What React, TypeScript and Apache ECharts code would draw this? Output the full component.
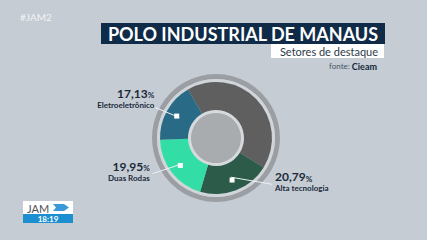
import React, { useEffect, useRef } from "react";
import * as echarts from "echarts";

const categories = ["Outros", "Alta tecnologia", "Duas Rodas", "Eletroeletrônico"];
const values = [42.13, 20.79, 19.95, 17.13];
const sliceColors = ["#5f5f60", "#2c5b49", "#33dea6", "#296b87"];
const showLabel = [false, true, true, true];

// label placement relative to slice centroid (style, not data)
const labelOffsets: Record<number, { lx: number; ly: number; ex: number; ey: number; align: string }> = {
  1: { lx: 44, ly: 5, ex: 41, ey: 7, align: "left" },
  2: { lx: -33, ly: 8, ex: -30, ey: 10, align: "right" },
  3: { lx: -25, ly: -19, ex: -24, ey: -10, align: "right" },
};

const CX = 216;
const CY = 138;
const R0 = 28;
const R1 = 56;

const fmt = (v: number) => v.toFixed(2).replace(".", ",");

export default function App() {
  const ref = useRef<HTMLDivElement>(null);
  useEffect(() => {
    if (!ref.current) return;
    const chart = echarts.init(ref.current, undefined, { renderer: "svg" });
    const font = "Lato, 'Open Sans', sans-serif";
    const slices = categories.map((name, i) => ({
      name,
      value: values[i],
      itemStyle: { color: sliceColors[i] },
    }));
    const labelled = categories.map((name, i) => ({
      name,
      value: values[i],
      label: { show: showLabel[i] },
      labelLine: { show: showLabel[i] },
    }));
    const squares = categories.map((name, i) => ({
      name,
      value: values[i],
      label: { show: showLabel[i] },
    }));
    const deco = (radius: number[], color: string, z: number) => ({
      type: "pie",
      silent: true,
      center: [CX, CY],
      radius,
      label: { show: false },
      labelLine: { show: false },
      itemStyle: { color },
      data: [{ value: 1, name: "deco" }],
      z,
    });
    chart.setOption({
      animation: false,
      backgroundColor: "#c5ccd3",
      series: [
        deco([59, 64], "#9b9fa3", 1),
        deco([55, 59], "#d0d5d9", 1),
        deco([0, 29], "#d6dadd", 1),
        deco([0, 25], "#a9acaf", 2),
        {
          type: "pie",
          silent: true,
          center: [CX, CY],
          radius: [R0, R1],
          startAngle: 120,
          clockwise: true,
          label: { show: false },
          labelLine: { show: false },
          data: slices,
          z: 3,
        },
        {
          type: "pie",
          silent: true,
          center: [CX, CY],
          radius: [R0, R1],
          startAngle: 120,
          clockwise: true,
          itemStyle: { color: "rgba(0,0,0,0)" },
          label: {
            position: "outside",
            formatter: (p: any) => `{v|${fmt(p.value)}}{p|%}\n{n|${p.name}}`,
            rich: {
              v: { fontFamily: font, fontWeight: "bold", fontSize: 12, color: "#1a2a3b", lineHeight: 12 },
              p: { fontFamily: font, fontWeight: "bold", fontSize: 8, color: "#1a2a3b", lineHeight: 12, verticalAlign: "bottom" },
              n: { fontFamily: font, fontWeight: "bold", fontSize: 8, color: "#1a2a3b", lineHeight: 11 },
            },
          },
          labelLine: { show: true, showAbove: true, lineStyle: { color: "#eef2f5", width: 1 }, length: 5, length2: 5 },
          labelLayout: (params: any) => {
            const o = labelOffsets[params.dataIndex];
            const pts = params.labelLinePoints;
            if (!o || !pts) return {};
            const p0 = pts[0];
            const k = (R0 + R1) / 2 / R1;
            const cx = CX + (p0[0] - CX) * k;
            const cy = CY + (p0[1] - CY) * k;
            return {
              x: cx + o.lx,
              y: cy + o.ly,
              align: o.align,
              verticalAlign: "middle",
              labelLinePoints: [
                [cx, cy],
                [cx + o.ex, cy + o.ey],
                [cx + o.ex, cy + o.ey],
              ],
            };
          },
          data: labelled,
          z: 4,
        },
        {
          type: "pie",
          silent: true,
          center: [CX, CY],
          radius: [R0, R1],
          startAngle: 120,
          clockwise: true,
          itemStyle: { color: "rgba(0,0,0,0)" },
          label: {
            position: "inside",
            formatter: "{s|}",
            rich: { s: { width: 5, height: 5, backgroundColor: "#ffffff" } },
          },
          labelLine: { show: false },
          data: squares,
          z: 6,
        },
      ],
      graphic: [
        {
          type: "text",
          left: 20,
          top: 12,
          style: { text: "#JAM2", fill: "rgba(255,255,255,0.8)", font: `10px ${font}` },
        },
        { type: "rect", shape: { x: 101, y: 23, width: 284, height: 21 }, style: { fill: "#0f2b47" } },
        {
          type: "text",
          x: 243,
          y: 34,
          style: {
            text: "POLO INDUSTRIAL DE MANAUS",
            fill: "#ffffff",
            font: `bold 18px ${font}`,
            align: "center",
            verticalAlign: "middle",
          },
        },
        { type: "rect", shape: { x: 271, y: 44, width: 113, height: 14 }, style: { fill: "#ffffff" } },
        {
          type: "text",
          x: 378,
          y: 51.5,
          style: {
            text: "Setores de destaque",
            fill: "#2c3a48",
            font: `11px ${font}`,
            align: "right",
            verticalAlign: "middle",
          },
        },
        {
          type: "text",
          x: 377,
          y: 66,
          style: {
            text: "{a|fonte: }{b|Cieam}",
            align: "right",
            verticalAlign: "middle",
            rich: {
              a: { fontFamily: font, fontSize: 8, fill: "#46556a" },
              b: { fontFamily: font, fontSize: 9, fontWeight: "bold", fill: "#13273c" },
            },
          },
        },
        { type: "rect", shape: { x: 23, y: 201, width: 50, height: 13 }, style: { fill: "#ffffff" } },
        {
          type: "text",
          x: 27,
          y: 208,
          style: { text: "JAM", fill: "#4b5057", font: `11px ${font}`, verticalAlign: "middle" },
        },
        {
          type: "polygon",
          shape: { points: [[53, 204], [64, 204], [69, 207.5], [64, 211], [53, 211], [56, 207.5]] },
          style: { fill: "#3a9ad6" },
        },
        { type: "rect", shape: { x: 23, y: 214, width: 50, height: 9 }, style: { fill: "#1d8fd0" } },
        {
          type: "text",
          x: 48,
          y: 218.5,
          style: {
            text: "18:19",
            fill: "#ffffff",
            font: `bold 8px ${font}`,
            align: "center",
            verticalAlign: "middle",
          },
        },
      ],
    });
    return () => chart.dispose();
  }, []);
  return (
    <div
      ref={ref}
      style={{ position: "fixed", left: 0, top: 0, width: 427, height: 240 }}
    />
  );
}
